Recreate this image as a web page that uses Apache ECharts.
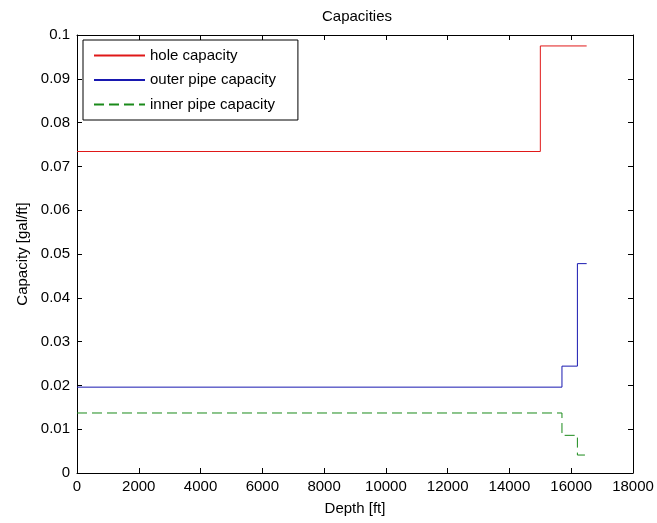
<!DOCTYPE html>
<html>
<head>
<meta charset="utf-8">
<script src="https://cdn.jsdelivr.net/npm/echarts@6/dist/echarts.min.js"></script>
<style>
  html, body { margin: 0; padding: 0; background: #fff; }
  #chart { width: 657px; height: 523px; }
</style>
</head>
<body>
<div id="chart"></div>
<script>
  // depth breakpoints [ft] and capacities [gal/ft] (step lines)
  const holeDepth = [0, 15000, 16500]
  const holeCap = [0.0734, 0.0975, 0.0975]
  const outerDepth = [0, 15700, 16200, 16500]
  const outerCap = [0.0196, 0.0244, 0.0478, 0.0478]
  const innerDepth = [0, 15700, 16200, 16500]
  const innerCap = [0.0137, 0.0086, 0.0041, 0.0041]
  const seriesNames = ['hole capacity', 'outer pipe capacity', 'inner pipe capacity']

  const pair = (xs, ys) => xs.map((x, i) => [x, ys[i]])
  const font = 'Liberation Sans, Arial, sans-serif'
  const fs = 15

  const chart = echarts.init(document.getElementById('chart'))

  // shared axis look, matlab style box with inward ticks
  const xBase = { type: 'value', min: 0, max: 18000, interval: 2000, splitLine: { show: false },
    axisLine: { onZero: false, lineStyle: { color: '#000' } },
    axisTick: { inside: true, length: 5, lineStyle: { color: '#000' } } }
  const yBase = { type: 'value', min: 0, max: 0.1, interval: 0.01, splitLine: { show: false },
    axisLine: { onZero: false, lineStyle: { color: '#000' } },
    axisTick: { inside: true, length: 5, lineStyle: { color: '#000' } } }

  chart.setOption({
    animation: false,
    backgroundColor: '#fff',
    title: {
      text: 'Capacities', left: 352, textAlign: 'center', top: 4,
      textStyle: { fontSize: fs, fontWeight: 'normal', color: '#000', fontFamily: font }
    },
    legend: {
      orient: 'vertical', left: 83, top: 40,
      data: seriesNames,
      borderColor: '#000', borderWidth: 1, backgroundColor: '#fff', borderRadius: 0,
      padding: [8, 22, 8, 10],
      itemWidth: 51, itemHeight: 14, itemGap: 9.5,
      itemStyle: { opacity: 0 },
      textStyle: { fontSize: fs, color: '#000', fontFamily: font }
    },
    grid: { left: 77, right: 24, top: 35, bottom: 50 },
    xAxis: [
      Object.assign({}, xBase, {
        position: 'bottom', name: 'Depth [ft]', nameLocation: 'middle', nameGap: 28,
        nameTextStyle: { fontSize: fs, color: '#000', fontFamily: font },
        axisLabel: { fontSize: fs, color: '#000', fontFamily: font, margin: 6,
          formatter: v => String(v) }
      }),
      Object.assign({}, xBase, { position: 'top', axisLabel: { show: false } })
    ],
    yAxis: [
      Object.assign({}, yBase, {
        position: 'left', name: 'Capacity [gal/ft]', nameLocation: 'middle', nameGap: 46,
        nameTextStyle: { fontSize: fs, color: '#000', fontFamily: font },
        axisLabel: { fontSize: fs, color: '#000', fontFamily: font, margin: 7,
          formatter: v => String(Math.round(v * 100) / 100) }
      }),
      Object.assign({}, yBase, { position: 'right', axisLabel: { show: false } })
    ],
    series: [
      {
        name: seriesNames[0], type: 'line', step: 'end', symbol: 'none',
        data: pair(holeDepth, holeCap),
        lineStyle: { color: '#e01818', width: 1 }, itemStyle: { color: '#e01818' }
      },
      {
        name: seriesNames[1], type: 'line', step: 'end', symbol: 'none',
        data: pair(outerDepth, outerCap),
        lineStyle: { color: '#1818b0', width: 1 }, itemStyle: { color: '#1818b0' }
      },
      {
        name: seriesNames[2], type: 'line', step: 'end', symbol: 'none',
        data: pair(innerDepth, innerCap),
        lineStyle: { color: '#1a8a1a', width: 1, type: [10, 5] }, itemStyle: { color: '#1a8a1a' }
      }
    ]
  })
</script>
</body>
</html>
